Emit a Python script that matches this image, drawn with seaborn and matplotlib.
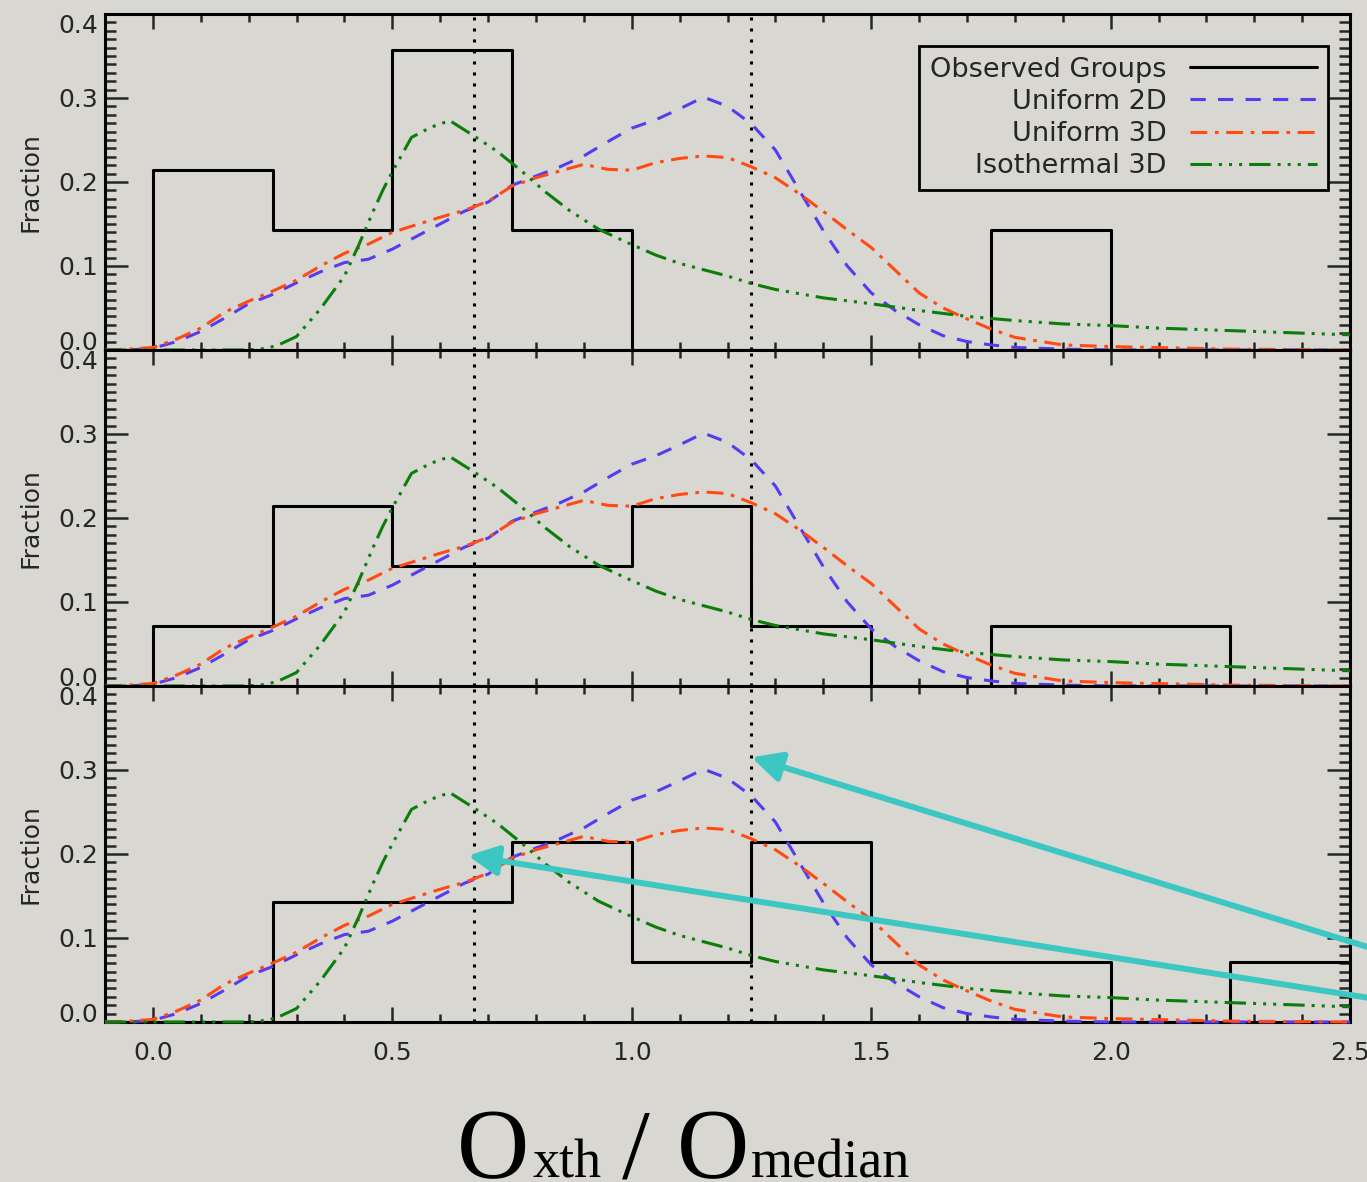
import numpy as np
import pandas as pd
import matplotlib
matplotlib.use("Agg")
import matplotlib.pyplot as plt
from matplotlib.lines import Line2D
from matplotlib.ticker import MultipleLocator, FormatStrFormatter
import seaborn as sns

# Observed group fractions in bins of width 0.25
bin_edges = [0.0, 0.25, 0.5, 0.75, 1.0, 1.25, 1.5, 1.75, 2.0, 2.25, 2.5]
obs_top = [0.214, 0.143, 0.357, 0.143, 0.0, 0.0, 0.0, 0.143, 0.0, 0.0]
obs_mid = [0.071, 0.214, 0.143, 0.143, 0.214, 0.071, 0.0, 0.071, 0.071, 0.0]
obs_bot = [0.0, 0.143, 0.143, 0.214, 0.071, 0.214, 0.071, 0.071, 0.0, 0.071]

# Model distributions
u2d_x = [-0.10, -0.05, 0.00, 0.05, 0.10, 0.15, 0.20, 0.25, 0.30, 0.35, 0.40, 0.45, 0.50, 0.55,
         0.60, 0.65, 0.70, 0.75, 0.80, 0.85, 0.90, 0.95, 1.00, 1.05, 1.10, 1.15, 1.20, 1.25,
         1.30, 1.35, 1.40, 1.45, 1.50, 1.55, 1.60, 1.65, 1.70, 1.75, 1.80, 1.90, 2.00, 2.25, 2.50]
u2d_y = [0.000, 0.000, 0.002, 0.010, 0.022, 0.038, 0.055, 0.066, 0.080, 0.093, 0.104, 0.108, 0.120, 0.135,
         0.150, 0.165, 0.176, 0.196, 0.207, 0.218, 0.231, 0.248, 0.264, 0.274, 0.287, 0.301, 0.290, 0.269,
         0.238, 0.190, 0.142, 0.100, 0.068, 0.047, 0.030, 0.017, 0.010, 0.006, 0.003, 0.001, 0.000, 0.000, 0.000]

u3d_x = u2d_x
u3d_y = [0.000, 0.001, 0.003, 0.013, 0.026, 0.045, 0.058, 0.070, 0.083, 0.100, 0.115, 0.126, 0.140, 0.149,
         0.158, 0.166, 0.177, 0.195, 0.205, 0.213, 0.221, 0.215, 0.214, 0.223, 0.228, 0.231, 0.229, 0.218,
         0.205, 0.186, 0.165, 0.143, 0.122, 0.095, 0.068, 0.050, 0.037, 0.025, 0.015, 0.006, 0.004, 0.001, 0.000]

iso_x = [-0.10, 0.00, 0.10, 0.20, 0.24, 0.27, 0.30, 0.35, 0.40, 0.43, 0.46, 0.48, 0.50, 0.54, 0.58,
         0.62, 0.67, 0.72, 0.77, 0.82, 0.87, 0.93, 0.99, 1.05, 1.10, 1.20, 1.25, 1.30, 1.40, 1.50,
         1.60, 1.70, 1.80, 1.90, 2.00, 2.10, 2.20, 2.30, 2.40, 2.50]
iso_y = [0.000, 0.000, 0.000, 0.000, 0.002, 0.008, 0.016, 0.049, 0.088, 0.125, 0.165, 0.190, 0.212, 0.253, 0.265,
         0.273, 0.255, 0.236, 0.213, 0.188, 0.166, 0.144, 0.128, 0.113, 0.103, 0.088, 0.079, 0.072, 0.062, 0.055,
         0.047, 0.040, 0.035, 0.031, 0.029, 0.026, 0.024, 0.022, 0.020, 0.018]

model_names = ["Uniform 2D", "Uniform 3D", "Isothermal 3D"]
obs_name = "Observed Groups"

# Reference ratios marked with dotted lines
ref_x = [0.67, 1.25]
# Arrow tips in the bottom panel (data units)
arrow_tips = [(1.25, 0.315), (0.658, 0.198)]
arrow_tails_fig = [(1.0, 0.199), (1.0, 0.156)]

bg = "#d9d7d2"
palette = {"Uniform 2D": "#553cf0", "Uniform 3D": "#ff4a14", "Isothermal 3D": "#0a7d0a"}
dashes = {"Uniform 2D": (5, 4),
          "Uniform 3D": (5.5, 2.5, 1.2, 2.5),
          "Isothermal 3D": (7, 2.3, 1, 2.3, 1, 2.3, 1, 2.3)}
cyan = "#3cc7c2"
LW = 2.2
TICK_FS = 18

sns.set_style("ticks", {"axes.facecolor": bg, "figure.facecolor": bg,
                        "axes.edgecolor": "black"})
plt.rcParams["font.family"] = ["DejaVu Sans"]
plt.rcParams["axes.linewidth"] = LW

model_df = pd.concat([
    pd.DataFrame({"x": u2d_x, "y": u2d_y, "model": model_names[0]}),
    pd.DataFrame({"x": u3d_x, "y": u3d_y, "model": model_names[1]}),
    pd.DataFrame({"x": iso_x, "y": iso_y, "model": model_names[2]}),
], ignore_index=True)

# pad with empty bins so the step outline closes down to zero at both ends
pad_edges = [bin_edges[0] - 0.25] + list(bin_edges) + [bin_edges[-1] + 0.25]
centers = [0.5 * (a + b) for a, b in zip(pad_edges[:-1], pad_edges[1:])]

fig, axes = plt.subplots(3, 1, figsize=(13.67, 11.82), dpi=100, sharex=True)
fig.subplots_adjust(left=0.0768, right=0.9876, top=0.9882, bottom=0.1354, hspace=0)
fig.patch.set_facecolor(bg)

for ax, frac in zip(axes, [obs_top, obs_mid, obs_bot]):
    ax.set_facecolor(bg)
    hist_df = pd.DataFrame({"x": centers, "w": [0.0] + list(frac) + [0.0]})
    sns.histplot(data=hist_df, x="x", weights="w", bins=pad_edges,
                 element="step", fill=False, color="black", linewidth=LW, ax=ax)
    n0 = len(ax.lines)
    sns.lineplot(data=model_df, x="x", y="y", hue="model", style="model",
                 palette=palette, dashes=dashes, linewidth=LW, legend=False,
                 sort=True, ax=ax)
    for ln in ax.lines[n0:]:
        ln.set_clip_on(False)
        ln.set_zorder(3)
    for xv in ref_x:
        ax.axvline(xv, color="black", linestyle=(0, (1, 2.6)), linewidth=LW, zorder=2)

    ax.set_xlim(-0.1, 2.5)
    ax.set_ylim(0, 0.4)
    ax.xaxis.set_major_locator(MultipleLocator(0.5))
    ax.xaxis.set_minor_locator(MultipleLocator(0.1))
    ax.yaxis.set_major_locator(MultipleLocator(0.1))
    ax.yaxis.set_minor_locator(MultipleLocator(0.01))
    ax.xaxis.set_major_formatter(FormatStrFormatter("%.1f"))
    ax.yaxis.set_major_formatter(FormatStrFormatter("%.1f"))
    ax.tick_params(axis="x", which="major", direction="in", length=11, width=1.8,
                   top=True, bottom=True, labelsize=TICK_FS, pad=14)
    ax.tick_params(axis="x", which="minor", direction="in", length=5.5, width=1.8,
                   top=True, bottom=True)
    ax.tick_params(axis="y", which="major", direction="in", length=16.5, width=1.8,
                   left=True, right=True, labelsize=TICK_FS, pad=5)
    ax.tick_params(axis="y", which="minor", direction="in", length=8, width=1.8,
                   left=True, right=True)
    for sp in ax.spines.values():
        sp.set_visible(True)
        sp.set_linewidth(LW)
    ax.set_xlabel("")
    ax.set_ylabel("Fraction", fontsize=18)
    ax.yaxis.set_label_coords(-0.05, 0.5)

for ax in axes[:-1]:
    ax.tick_params(axis="x", labelbottom=False)

# Legend in the top panel: labels on the left, right-aligned against the samples
handles = [Line2D([], [], color="black", linewidth=LW)]
for name in model_names:
    handles.append(Line2D([], [], color=palette[name], linewidth=LW, dashes=dashes[name]))
labels = [obs_name] + model_names
leg = axes[0].legend(handles, labels, loc="upper right", bbox_to_anchor=(0.982, 0.905),
                     borderaxespad=0, markerfirst=False, handlelength=4.7,
                     handletextpad=0.85, labelspacing=0.23, borderpad=0.4,
                     fontsize=19.5, frameon=True, fancybox=False,
                     edgecolor="black", facecolor=bg, framealpha=1)
leg.get_frame().set_linewidth(2.0)

fig.canvas.draw()
renderer = fig.canvas.get_renderer()

# keep the end labels of each stacked panel inside their own panel
for ax in axes:
    locs = ax.yaxis.get_majorticklocs()
    for tk, loc in zip(ax.yaxis.get_major_ticks(len(locs)), locs):
        if abs(loc) < 1e-9:
            tk.label1.set_va("baseline")
        elif abs(loc - 0.4) < 1e-9:
            tk.label1.set_va("top")

# Arrows pointing at the reference ratios
for (tx, ty), tail in zip(arrow_tips, arrow_tails_fig):
    axes[-1].annotate("", xy=(tx, ty), xycoords="data",
                      xytext=tail, textcoords="figure fraction",
                      arrowprops=dict(arrowstyle="-|>,head_length=0.9,head_width=0.45",
                                      mutation_scale=20, color=cyan, lw=4.3,
                                      shrinkA=0, shrinkB=0),
                      annotation_clip=False, zorder=6)

# Axis title built from large and small serif pieces on a common baseline
W = fig.get_figwidth() * fig.dpi
baseline_y = 0.0042
parts = [("O", 72, 0), ("xth", 39, 4), ("/", 72, 20), ("O", 72, 27), ("median", 39, 2)]
pieces = []
for s, fs, gap in parts:
    t = fig.text(0, baseline_y, s, fontsize=fs, family="Liberation Serif",
                 ha="left", va="baseline", color="black")
    pieces.append((t, gap))
fig.canvas.draw()
widths = [t.get_window_extent(renderer).width for t, _ in pieces]
total = sum(widths) + sum(g for _, g in pieces)
xpos = 0.5 * W - total / 2
for (t, gap), w in zip(pieces, widths):
    xpos += gap
    t.set_x(xpos / W)
    xpos += w

fig.savefig("out.png", dpi=100, facecolor=bg)
